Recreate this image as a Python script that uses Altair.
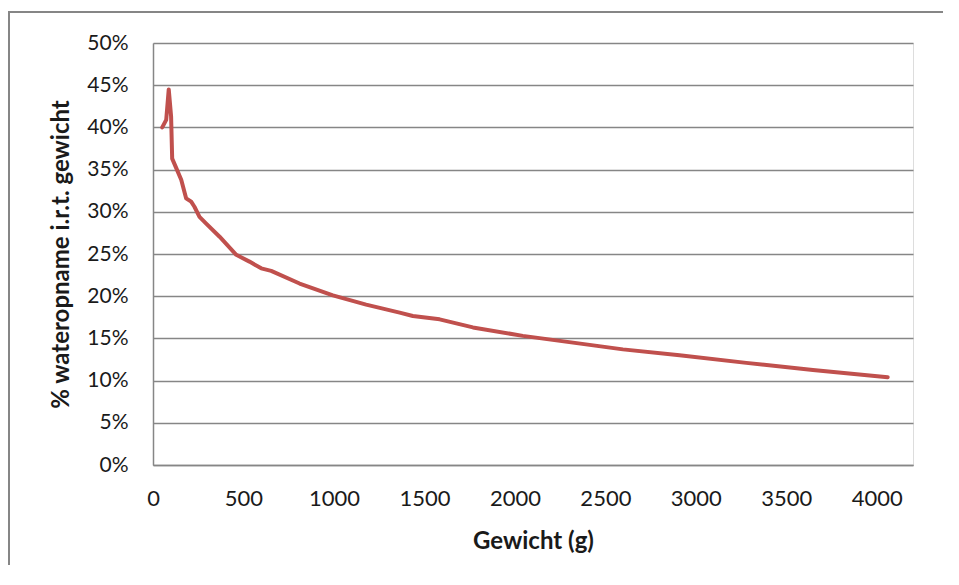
import altair as alt
import pandas as pd

# Weight (g) and water uptake (% relative to weight)
weights = [51, 73, 87, 100, 106, 128, 156, 183, 211, 229, 257, 294, 368, 460, 533,
           598, 653, 810, 994, 1178, 1363, 1436, 1584, 1768, 2044, 2321, 2597,
           2910, 3279, 3647, 4060]
uptake_pct = [40.0, 40.9, 44.5, 41.3, 36.3, 35.2, 33.8, 31.6, 31.2, 30.6, 29.4,
              28.6, 27.05, 24.9, 24.1, 23.3, 23.0, 21.5, 20.1, 19.0, 18.05, 17.65,
              17.26, 16.3, 15.3, 14.5, 13.7, 13.0, 12.1, 11.26, 10.4]
x_ticks = [0, 500, 1000, 1500, 2000, 2500, 3000, 3500, 4000]
y_ticks = [0, 5, 10, 15, 20, 25, 30, 35, 40, 45, 50]

df = pd.DataFrame({"gewicht": weights, "pct": uptake_pct})

FONT = "Lato"
GRID = "#868686"
TXT = "#1a1a1a"

W, H = 760, 422

one = pd.DataFrame({"a": [0]})
frame_top = alt.Chart(one).mark_rect(color=GRID, strokeWidth=0).encode(
    x=alt.value(-145), x2=alt.value(790), y=alt.value(-32), y2=alt.value(-30)
)
frame_left = alt.Chart(one).mark_rect(color=GRID, strokeWidth=0).encode(
    x=alt.value(-145), x2=alt.value(-143), y=alt.value(-32), y2=alt.value(560)
)

line = alt.Chart(df).mark_line(color="#C0504D", strokeWidth=4, strokeJoin="round", strokeCap="round").encode(
    x=alt.X("gewicht:Q",
            scale=alt.Scale(domain=[0, 4200], nice=False, zero=False),
            axis=alt.Axis(values=x_ticks, format="d", title="Gewicht (g)", grid=False,
                          ticks=False, domainColor=GRID, domainWidth=1.5,
                          labelFont=FONT, labelFontSize=22, labelColor=TXT,
                          labelPadding=23, labelFlush=False,
                          titleFont=FONT, titleFontSize=24, titleFontWeight="bold",
                          titleColor=TXT, titleY=83, titleBaseline="alphabetic")),
    y=alt.Y("pct:Q",
            scale=alt.Scale(domain=[0, 50], nice=False),
            axis=alt.Axis(values=y_ticks, title="% wateropname i.r.t. gewicht",
                          labelExpr="datum.value + '%'", grid=True, gridColor=GRID,
                          gridWidth=1.3, ticks=False, domainColor=GRID, domainWidth=1.5,
                          labelFont=FONT, labelFontSize=21, labelColor=TXT,
                          labelPadding=25, labelFlush=False,
                          titleFont=FONT, titleFontSize=24, titleFontWeight="bold",
                          titleColor=TXT, titleX=-85, titleY=H / 2,
                          titleAngle=270, titleAlign="center",
                          titleBaseline="alphabetic")),
)

chart = alt.layer(frame_top, frame_left, line).properties(
    width=W, height=H,
    autosize=alt.AutoSizeParams(type="none"),
    padding={"left": 145, "top": 35, "right": 38, "bottom": 100},
).configure_view(stroke=None).configure(background="white")

chart.save("out.html", embed_options={"renderer": "svg", "actions": False})
